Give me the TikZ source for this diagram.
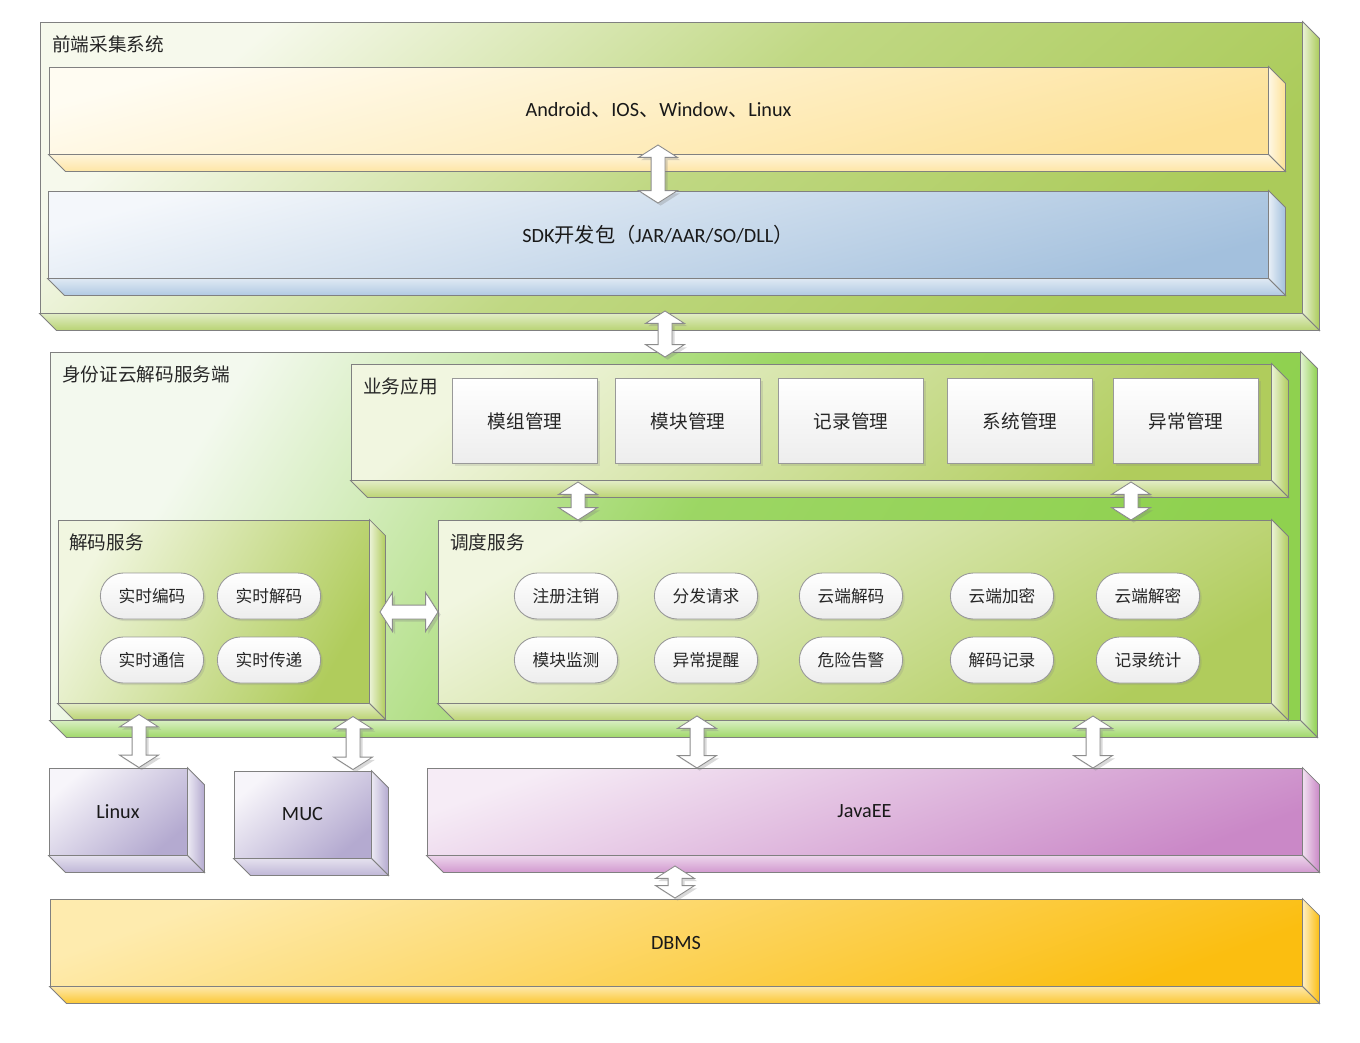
\documentclass[tikz,border=0pt]{standalone}
\usepackage{fontspec}
\setmainfont{Carlito}
\newfontfamily\cjk{Noto Sans CJK SC}
\usetikzlibrary{calc, fit, shapes.arrows, shapes.misc, shadows}

\definecolor{feLight}{HTML}{F6F9EC}
\definecolor{feDark}{HTML}{ABCB5A}
\definecolor{srvLight}{HTML}{F3F9EE}
\definecolor{srvDark}{HTML}{8FD14F}
\definecolor{subLight}{HTML}{F1F6E0}
\definecolor{subDark}{HTML}{B0CC5C}
\definecolor{yelLight}{HTML}{FFFCF2}
\definecolor{yelDark}{HTML}{FDE196}
\definecolor{bluLight}{HTML}{F4F7FB}
\definecolor{bluDark}{HTML}{A3C0DD}
\definecolor{lavLight}{HTML}{F7F5FA}
\definecolor{lavDark}{HTML}{B4AAD0}
\definecolor{pnkLight}{HTML}{F6ECF6}
\definecolor{pnkDark}{HTML}{CA88C7}
\definecolor{dbLight}{HTML}{FEEBAE}
\definecolor{dbDark}{HTML}{FBBE10}

\tikzset{
    edge/.style={draw=black!50, line width=0.5pt},
    face/.style={edge, inner sep=0pt, top color=#1Light, bottom color=#1Dark, shading angle=40},
    boxtext/.style={inner sep=0pt, font=\fontsize{11.5}{13}\selectfont, text=black!90},
    title/.style={anchor=north west, inner sep=0pt, font=\cjk\fontsize{10.6}{12}\selectfont, text=black!85},
    modbox/.style={edge, draw=black!40, top color=white, bottom color=black!7, minimum width=2.9cm,
        minimum height=1.7cm, font=\cjk\fontsize{10.6}{12}\selectfont, text=black!85,
        drop shadow={opacity=0.2, shadow xshift=1.2pt, shadow yshift=-1.2pt}},
    pill/.style={rounded rectangle, edge, draw=black!40, top color=white, bottom color=black!7,
        minimum width=2.3cm, minimum height=0.92cm, font=\cjk\fontsize{9.5}{11}\selectfont, text=black!85,
        drop shadow={opacity=0.2, shadow xshift=1.2pt, shadow yshift=-1.2pt}},
    dblarrow/.style={double arrow, edge, draw=black!45, fill=white, inner sep=0.13cm,
        double arrow head extend=0.25cm, double arrow tip angle=115,
        drop shadow={opacity=0.3, shadow xshift=1.5pt, shadow yshift=-1.5pt}},
}

% side and bottom faces of a box: node, colour, depth
\newcommand{\bevelface}[3]{%
    \path[edge, left color=#2!25, right color=#2] (#1.north east) -- ++(#3,#3)
        -- ($(#1.south east)+(#3,#3)$) -- (#1.south east) -- cycle;
    \path[edge, top color=#2!35, bottom color=#2!85] (#1.south west) -- ++(#3,#3)
        -- ($(#1.south east)+(#3,#3)$) -- (#1.south east) -- cycle;
}

\begin{document}
\begin{tikzpicture}[x=0.02cm, y=-0.02cm]
    %\draw[help lines, step=100] (0, 0) grid (1360, 1042);
    \useasboundingbox (0, 0) rectangle (1360, 1042);

    \node[face=fe, middle color=feDark!75, fit={(40, 22) (1302, 313)}] (fe) {};
    \bevelface{fe}{feDark}{17}
    \node[title] (feT) at (52, 35) {前端采集系统};

    \node[face=yel, shading angle=15, fit={(49, 67) (1268, 154)}] (yel) {};
    \bevelface{yel}{yelDark}{17}
    \node[boxtext] (yelT) at (yel) {Android{\cjk 、}IOS{\cjk 、}Window{\cjk 、}Linux};
    \node[face=blu, shading angle=15, fit={(48, 191) (1268, 278)}] (blu) {};
    \bevelface{blu}{bluDark}{17}
    \node[boxtext] (bluT) at (blu) {SDK{\cjk 开发包（}JAR/AAR/SO/DLL{\cjk ）}};

    \node[face=srv, shading angle=58, middle color=srvDark!88, fit={(50, 352) (1300, 720)}] (srv) {};
    \bevelface{srv}{srvDark}{17}
    \node[title] (srvT) at (62, 365) {身份证云解码服务端};

    \node[face=sub, fit={(351, 364) (1271, 480)}] (biz) {};
    \bevelface{biz}{subDark}{17}
    \node[title] (bizT) at (363, 377) {业务应用};

    \node[modbox] (m1) at (525, 421) {模组管理};
    \node[modbox] (m2) at (688, 421) {模块管理};
    \node[modbox] (m3) at (851, 421) {记录管理};
    \node[modbox] (m4) at (1020, 421) {系统管理};
    \node[modbox] (m5) at (1186, 421) {异常管理};

    \node[face=sub, shading angle=60, fit={(58, 520) (369, 703)}] (dec) {};
    \bevelface{dec}{subDark}{16}
    \node[title] (decT) at (69, 533) {解码服务};

    \node[pill] (d1) at (152, 596) {实时编码};
    \node[pill] (d2) at (269, 596) {实时解码};
    \node[pill] (d3) at (152, 660) {实时通信};
    \node[pill] (d4) at (269, 660) {实时传递};

    \node[face=sub, shading angle=30, fit={(438, 520) (1271, 703)}] (sch) {};
    \bevelface{sch}{subDark}{17}
    \node[title] (schT) at (450, 533) {调度服务};

    \node[pill] (s1) at (566, 596) {注册注销};
    \node[pill] (s2) at (706, 596) {分发请求};
    \node[pill] (s3) at (851, 596) {云端解码};
    \node[pill] (s4) at (1002, 596) {云端加密};
    \node[pill] (s5) at (1148, 596) {云端解密};
    \node[pill] (s6) at (566, 660) {模块监测};
    \node[pill] (s7) at (706, 660) {异常提醒};
    \node[pill] (s8) at (851, 660) {危险告警};
    \node[pill] (s9) at (1002, 660) {解码记录};
    \node[pill] (s10) at (1148, 660) {记录统计};

    \node[face=lav, fit={(49, 768) (187, 855)}] (lin) {};
    \bevelface{lin}{lavDark}{17}
    \node[boxtext] (linT) at (lin) {Linux};
    \node[face=lav, fit={(234, 771) (371, 858)}] (muc) {};
    \bevelface{muc}{lavDark}{17}
    \node[boxtext] (mucT) at (muc) {MUC};
    \node[face=pnk, shading angle=20, fit={(427, 768) (1302, 855)}] (jee) {};
    \bevelface{jee}{pnkDark}{17}
    \node[boxtext] (jeeT) at (jee) {JavaEE};
    \node[face=db, shading angle=20, fit={(50, 899) (1302, 986)}] (db) {};
    \bevelface{db}{dbDark}{17}
    \node[boxtext] (dbT) at (db) {DBMS};

    \node[dblarrow, shape border rotate=90, minimum height=1.16cm] (a1) at (658, 174) {};
    \node[dblarrow, shape border rotate=90, minimum height=0.92cm] (a2) at (665, 334) {};
    \node[dblarrow, shape border rotate=90, minimum height=0.76cm] (a3) at (578, 501) {};
    \node[dblarrow, shape border rotate=90, minimum height=0.76cm] (a4) at (1131, 501) {};
    \node[dblarrow, minimum height=1.16cm] (a5) at (409, 612) {};
    \node[dblarrow, shape border rotate=90, minimum height=1.06cm] (a6) at (139, 741) {};
    \node[dblarrow, shape border rotate=90, minimum height=1.06cm] (a7) at (353, 743) {};
    \node[dblarrow, shape border rotate=90, minimum height=1.04cm] (a8) at (697, 742) {};
    \node[dblarrow, shape border rotate=90, minimum height=1.04cm] (a9) at (1093, 742) {};
    \node[dblarrow, shape border rotate=90, minimum height=0.64cm] (a10) at (675, 882) {};

\end{tikzpicture}
\end{document}
